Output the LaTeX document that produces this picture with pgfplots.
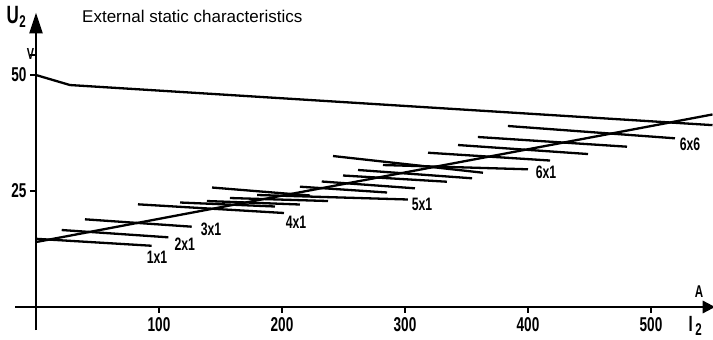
\documentclass[border=0pt]{standalone}
\usepackage{fontspec}
\setmainfont{Liberation Sans}
\newfontfamily\condbold{Liberation Sans}[FakeStretch=0.68]
\usepackage{pgfplots}
\pgfplotsset{compat=1.18}
\tikzset{
  seg/.style={black, line width=2.3pt},
  lbl/.style={font=\condbold\bfseries\fontsize{18}{18}\selectfont, inner sep=0pt},
}
\begin{document}
\begin{tikzpicture}
\path[use as bounding box] (0,0) rectangle (713pt,340pt);
\begin{axis}[
  at={(15.1pt,9.8pt)}, anchor=south west,
  scale only axis, width=697.4pt, height=315.5pt,
  xmin=-17, xmax=550, ymin=-5, ymax=63,
  axis lines=middle,
  axis line style={line width=2.3pt, -},
  xtick={100,200,300,400,500}, ytick={25,50},
  extra y ticks={54.3}, extra y tick labels={},
  tick align=outside, major tick length=6pt,
  tick style={line width=1.6pt, black},
  /pgf/number format/assume math mode=true,
  ticklabel style={font=\condbold\bfseries\fontsize{20}{20}\selectfont},
  xticklabel style={yshift=-1pt},
  clip=false,
]
% external characteristic (top)
\addplot[seg, no markers] coordinates {(0,50) (27.6,47.84) (550,39.2)};
% load line
\addplot[seg, no markers] coordinates {(0,14) (550,41.5)};
% switch positions
\addplot[seg, no markers] coordinates {(0,14.7) (94,13.2)};
\addplot[seg, no markers] coordinates {(20.9,16.59) (107.6,15.02)};
\addplot[seg, no markers] coordinates {(39.8,18.90) (126.6,17.31)};
\addplot[seg, no markers] coordinates {(82.9,22.13) (201.6,20.26)};
\addplot[seg, no markers] coordinates {(117.1,22.52) (194.3,21.66)};
\addplot[seg, no markers] coordinates {(139.0,22.84) (214.6,22.09)};
\addplot[seg, no markers] coordinates {(157.7,23.49) (237.4,22.84)};
\addplot[seg, no markers] coordinates {(143.1,25.75) (222.8,24.03)};
\addplot[seg, no markers] coordinates {(179.7,24.14) (302.4,23.17)};
\addplot[seg, no markers] coordinates {(214.6,25.93) (285.4,24.68)};
\addplot[seg, no markers] coordinates {(232.3,27.05) (308.1,25.58)};
\addplot[seg, no markers] coordinates {(249.6,28.34) (334.1,27.00)};
\addplot[seg, no markers] coordinates {(261.8,29.53) (354.5,27.74)};
\addplot[seg, no markers] coordinates {(241.5,32.54) (363.4,28.94)};
\addplot[seg, no markers] coordinates {(282.1,30.60) (400,29.68)};
\addplot[seg, no markers] coordinates {(318.7,33.25) (417.9,31.57)};
\addplot[seg, no markers] coordinates {(343.1,34.91) (448.8,32.97)};
\addplot[seg, no markers] coordinates {(359.3,36.64) (480.5,34.55)};
\addplot[seg, no markers] coordinates {(383.7,39.01) (519.5,36.36)};
% axis arrowheads
\fill[black] (axis cs:0,63.4) -- (axis cs:-5.5,59.0) -- (axis cs:5.5,59.0) -- cycle;
\fill[black] (axis cs:552,0) -- (axis cs:542,1.4) -- (axis cs:542,-1.4) -- cycle;
% labels
\node[lbl] at (axis cs:98.4,10.7) {1x1};
\node[lbl] at (axis cs:121,13.6) {2x1};
\node[lbl] at (axis cs:142.3,16.8) {3x1};
\node[lbl] at (axis cs:211.4,18.3) {4x1};
\node[lbl] at (axis cs:313.8,22.2) {5x1};
\node[lbl] at (axis cs:414.6,29.0) {6x1};
\node[lbl] at (axis cs:531.7,35.1) {6x6};
% units / axis names
\node[font=\condbold\bfseries\fontsize{16}{16}\selectfont, inner sep=0pt] at (axis cs:-4.5,54.6) {V};
\node[font=\condbold\bfseries\fontsize{25}{25}\selectfont, inner sep=0pt, anchor=base west] at (axis cs:-24,61.0) {U\kern0.5pt\raisebox{-0.3ex}{\fontsize{17}{17}\selectfont 2}};
\node[font=\condbold\bfseries\fontsize{17}{17}\selectfont, inner sep=0pt] at (axis cs:539,3.3) {A};
\node[font=\condbold\bfseries\fontsize{22}{22}\selectfont, inner sep=0pt, anchor=base west] at (axis cs:530.5,-5.3) {I\kern2.5pt\raisebox{-0.3ex}{\fontsize{17}{17}\selectfont 2}};
\node[font=\fontsize{17}{17}\selectfont, inner sep=0pt, anchor=base west] at (axis cs:37.4,61.4) {External static characteristics};
\end{axis}
\end{tikzpicture}
\end{document}
